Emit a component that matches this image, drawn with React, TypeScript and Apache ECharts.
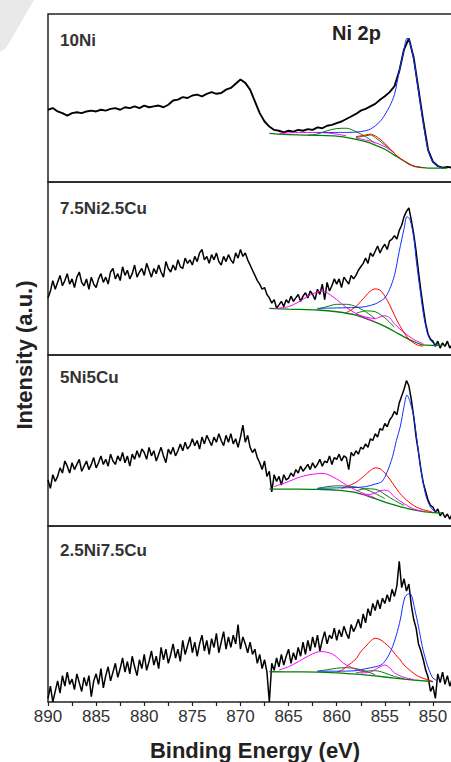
import React, { useEffect, useRef } from 'react';
import * as echarts from 'echarts';

// Energy grids (binding energy, eV)
const E_HALF: number[] = Array.from({ length: 85 }, (_, i) => 890 - 0.5 * i);
const E_QUARTER: number[] = Array.from({ length: 169 }, (_, i) => 890 - 0.25 * i);

const PANEL_LABELS = ['10Ni', '7.5Ni2.5Cu', '5Ni5Cu', '2.5Ni7.5Cu'];
const X_TICK_LABELS = [890, 885, 880, 875, 870, 865, 860, 855, 850];

// Panel 1 (10Ni) – measured spectrum, 0.5 eV steps from 890 to 848
const DATA_10NI = [
  43, 44, 42, 41, 39.5, 41, 41.5, 41, 42, 42.5, 42, 43, 42.5, 43.5, 44, 43, 44.5, 44, 45, 44,
  45.5, 44.5, 45, 45.5, 44.5, 46, 48.5, 49, 50.5, 50, 51.5, 52, 51, 52.5, 53.5, 52.5, 53, 55, 56, 58.5,
  61, 59, 55, 48, 41, 36, 33, 31, 30.5, 29.5, 30.5, 30, 31, 30.5, 31.5, 31, 32.5, 32, 33.5, 34,
  35, 36, 37.5, 39, 40.5, 42.5, 43.5, 45, 46.5, 49, 51, 53.5, 57, 66, 79, 85.5, 74, 55, 36, 19,
  12, 9.5, 8.5, 9, 8.5,
];

// Panel 2 (7.5Ni2.5Cu) – 0.25 eV steps from 890 to 848
const DATA_75NI = [
  33, 37, 43, 38, 42, 46, 40, 43, 47, 41, 44, 39, 45, 48, 42, 40, 44, 38, 45, 41,
  39, 44, 47, 42, 45, 41, 48, 50, 44, 47, 43, 51, 46, 49, 44, 47, 52, 45, 48, 50,
  46, 53, 49, 45, 50, 47, 52, 48, 45, 54, 50, 48, 52, 49, 55, 51, 50, 56, 53, 55,
  52, 57, 54, 59, 61, 55, 57, 53, 58, 55, 59, 54, 52, 57, 54, 58, 55, 53, 59, 56,
  61, 57, 59, 55, 52, 49, 46, 43, 41, 38, 39, 35, 33, 30, 32, 27, 29, 31, 28, 32,
  30, 34, 31, 33, 35, 31, 34, 36, 33, 37, 35, 32, 38, 35, 41, 32, 42, 37, 40, 44,
  41, 44, 39, 45, 43, 41, 46, 44, 46, 49, 51, 53, 56, 53, 59, 57, 60, 63, 59, 62,
  64, 61, 66, 67, 69, 67, 72, 75, 80, 83, 85, 78, 70, 60, 48, 37, 27, 18, 12, 9,
  8, 5, 8, 4, 7, 5, 8, 4, 6,
];

// Panel 3 (5Ni5Cu) – 0.25 eV steps from 890 to 848
const DATA_5NI = [
  27, 22, 30, 26, 29, 34, 31, 38, 35, 31, 37, 33, 36, 39, 32, 35, 38, 33, 36, 40,
  34, 37, 41, 36, 39, 35, 42, 38, 36, 41, 38, 43, 37, 41, 35, 42, 39, 44, 40, 45,
  43, 39, 46, 41, 44, 38, 42, 46, 41, 37, 45, 42, 46, 41, 44, 48, 44, 49, 45, 47,
  51, 47, 50, 45, 52, 48, 53, 50, 47, 52, 49, 54, 50, 47, 53, 49, 54, 48, 51, 46,
  52, 59, 49, 53, 46, 43, 45, 40, 37, 33, 38, 29, 32, 20, 30, 26, 29, 24, 30, 27,
  28, 31, 29, 33, 31, 35, 32, 34, 36, 33, 37, 34, 36, 39, 35, 38, 37, 41, 36, 40,
  39, 42, 38, 41, 40, 33, 43, 41, 44, 42, 46, 45, 48, 46, 51, 50, 54, 52, 57, 56,
  60, 58, 62, 64, 67, 65, 72, 76, 80, 85, 82, 74, 64, 52, 43, 33, 25, 20, 15, 12,
  11, 8, 10, 6, 8, 5, 7, 4, 7,
];

// Panel 4 (2.5Ni7.5Cu) – 0.25 eV steps from 890 to 848
const DATA_25NI = [
  2, 9, 0, 6, 12, 5, 15, 9, 17, 10, 13, 7, 16, 11, 6, 14, 9, 15, 3, 12,
  16, 10, 19, 8, 15, 20, 12, 17, 22, 14, 19, 25, 17, 23, 16, 26, 20, 15, 24, 19,
  27, 18, 23, 29, 21, 26, 19, 31, 24, 30, 22, 27, 33, 25, 30, 23, 35, 27, 32, 37,
  28, 34, 26, 33, 38, 29, 35, 27, 36, 31, 39, 28, 34, 40, 30, 37, 31, 38, 33, 44,
  30, 37, 33, 28, 34, 27, 30, 22, 27, 19, 24, 17, 0, 22, 18, 25, 20, 27, 21, 26,
  30, 22, 28, 24, 31, 26, 34, 27, 35, 29, 37, 31, 38, 29, 35, 40, 33, 38, 36, 42,
  35, 41, 37, 43, 39, 36, 44, 40, 43, 47, 42, 50, 45, 53, 49, 56, 52, 58, 53, 59,
  56, 61, 57, 64, 60, 66, 80, 65, 70, 63, 67, 55, 47, 42, 33, 29, 24, 18, 14, 6,
  9, 2, 16, 11, 17, 10, 15, 9, 13,
];

// Fitted components: [binding energy, intensity]
const BG_10NI = [[867, 29], [866, 28.5], [864, 28], [862, 27.8], [860, 27.3], [858.5, 26], [857, 24], [856, 22], [855, 19.5], [854, 16], [853, 12.5], [852, 9.5], [851, 8.5], [850, 8.2], [848.5, 8.2]];
const BLUE_10NI = [[862, 29.5], [859, 29.5], [857.5, 30], [856.5, 31.5], [855.5, 36], [855, 40], [854.5, 45], [854, 52], [853.5, 66], [853, 79], [852.7, 85.5], [852.5, 85], [852, 73], [851.5, 54], [851, 35], [850.5, 19], [850, 12], [849.5, 9.5], [849, 8.5]];
const RED_10NI = [[858, 27], [857, 28], [856.5, 28.5], [856, 27.5], [855.5, 25.5], [855, 23], [854.5, 20], [854, 17], [853.5, 14.5], [853, 12.5], [852.5, 10.5], [852, 9.5], [851, 8.5]];
const MAG_A_10NI = [[866, 28.8], [864, 29.5], [862, 29.5], [861, 29.2], [860, 28.5], [859, 27.5]];
const MAG_B_10NI = [[858, 26.2], [857, 25], [856, 23.5], [855, 21], [854, 17.5]];
const GRN_A_10NI = [[863, 27.8], [862, 28.6], [861, 30.5], [860, 31.8], [859, 32], [858, 30], [857, 27], [856, 23]];
const GRN_B_10NI = [[858, 26.5], [857, 27.5], [856.5, 28], [856, 26.5], [855, 22], [854, 17]];

const BG_75NI = [[867, 27], [865, 26.5], [862, 26], [860, 25], [858, 23], [856, 19], [855, 16.5], [854, 13.6], [853, 10.5], [852, 7.8], [851, 5.8], [850, 5.6], [849, 5.6]];
const BLUE_75NI = [[862, 27], [860, 27.2], [858, 27.5], [857, 28], [856, 29.5], [855.5, 31], [855, 33], [854.5, 38], [854, 46], [853.5, 60], [853, 73], [852.7, 80], [852.4, 78.5], [852, 68], [851.7, 53], [851.3, 36], [851, 24], [850.6, 13], [850.3, 9], [850, 7], [849.5, 6]];
const RED_75NI = [[859, 24.5], [858.5, 26], [858, 28], [857.5, 31], [857, 34], [856.5, 37], [856, 38.2], [855.5, 37.5], [855, 34], [854.5, 29], [854, 23], [853.5, 17.5], [853, 13], [852.5, 9], [852, 7], [851.5, 5.5], [851, 5.2]];
const MAG_A_75NI = [[866.5, 26.8], [865, 28], [864, 30.5], [863, 34], [862, 36.5], [861.5, 37], [861, 36], [860, 32], [859, 27.5], [858, 24], [857, 21.5], [856, 19]];
const MAG_B_75NI = [[858, 23.5], [857, 22], [856, 21], [855.5, 22], [855, 22.7], [854.5, 21.5], [854, 18], [853, 13], [852, 9], [851, 6.5]];
const GRN_A_75NI = [[862, 26.5], [861, 28], [860, 29.3], [859, 29.3], [858, 28], [857, 25], [856, 21]];
const GRN_B_75NI = [[858, 24], [857, 25.5], [856, 25], [855, 21.5], [854, 16]];

const BG_5NI = [[867, 21.6], [864, 21.6], [862, 21.4], [860, 21], [858, 19.5], [856, 16], [855, 14], [854, 12.3], [853, 10.7], [852, 9.4], [851, 8.4], [850, 7.8], [849, 7.6]];
const BLUE_5NI = [[862, 22], [860, 22.3], [858, 22.5], [857, 23], [856, 24.5], [855.3, 26], [854.8, 31], [854.2, 40.5], [853.8, 50], [853.4, 58], [853, 70], [852.7, 76.6], [852.4, 73], [852, 64], [851.7, 52], [851.4, 38.6], [851, 25], [850.7, 17], [850.3, 11.5], [850, 9.4], [849.5, 8]];
const RED_5NI = [[859.5, 22], [859, 23], [858, 25.5], [857, 30], [856.5, 32.5], [856, 34], [855.5, 33.5], [855, 31], [854.5, 27.5], [854, 23.5], [853.5, 19.5], [853, 16.5], [852.5, 14], [852, 12], [851.5, 10.5], [851, 9.5], [850.5, 8.8], [850, 8]];
const MAG_A_5NI = [[866.5, 23], [865, 26], [864, 28.3], [863, 29.8], [862, 30.6], [861.5, 30.8], [861, 30.3], [860, 27.5], [859, 24], [858, 21], [857, 18.5], [856, 16.5]];
const MAG_B_5NI = [[857.5, 18.5], [856.5, 18.5], [855.5, 20.5], [855, 21], [854.5, 20], [854, 17], [853, 13], [852, 10], [851, 8.5]];
const GRN_A_5NI = [[862, 22], [861, 23], [860, 23.5], [859, 23.3], [858, 22.8], [857, 21.5], [856, 19], [855, 16]];
const GRN_B_5NI = [[858, 20.5], [857, 21.8], [856, 21.5], [855.5, 20.5], [855, 18.5], [854, 15], [853, 12]];

const BG_25NI = [[867, 17.2], [864, 17.1], [862, 17], [860, 16.5], [858, 15.8], [856, 14.8], [854, 13.6], [852, 12.5], [850.5, 11.8], [850, 11.6]];
const BLUE_25NI = [[862, 17.5], [860, 17.5], [858, 17.8], [857, 18.9], [856, 20], [855.3, 21.4], [854.7, 25.5], [854.2, 31.4], [853.8, 38], [853.4, 46.6], [852.9, 59.8], [852.4, 61.7], [851.8, 50.4], [851.4, 40], [851.1, 31.4], [850.7, 23], [850.4, 18.2], [850, 13.6], [849.5, 12]];
const RED_25NI = [[860, 17], [859.5, 18], [859, 20], [858, 24.5], [857.5, 28.6], [857, 31.5], [856.5, 34.5], [856, 36.2], [855.5, 35.5], [855, 33.5], [854.4, 30.5], [853.9, 27], [853.4, 23.9], [853, 21], [852.5, 18.5], [852, 16.3], [851.5, 14.5], [850.7, 12.9], [850, 11.7]];
const MAG_A_25NI = [[866, 18.2], [865, 20], [864, 22.9], [863, 26], [862, 28.4], [861.5, 28.6], [860.6, 27.6], [860, 25.5], [859.3, 22], [858.6, 20], [858, 18.5], [857, 17]];
const MAG_B_25NI = [[857.5, 16.5], [856.5, 17], [856, 18.5], [855.5, 20], [855, 21], [854.5, 19.5], [854, 16.5], [853, 14], [852, 12.8]];
const GRN_A_25NI = [[862, 17.5], [861, 18.3], [860, 19.2], [859, 19.5], [858, 19], [857, 17.5], [856, 15.5]];
const GRN_B_25NI = [[858, 16.5], [857, 17.5], [856, 17.8], [855, 16.5], [854, 14.5], [853, 13.2]];

const PANELS = [
  { energies: E_HALF, data: DATA_10NI, bg: BG_10NI, blue: BLUE_10NI, red: RED_10NI, magA: MAG_A_10NI, magB: MAG_B_10NI, grnA: GRN_A_10NI, grnB: GRN_B_10NI },
  { energies: E_QUARTER, data: DATA_75NI, bg: BG_75NI, blue: BLUE_75NI, red: RED_75NI, magA: MAG_A_75NI, magB: MAG_B_75NI, grnA: GRN_A_75NI, grnB: GRN_B_75NI },
  { energies: E_QUARTER, data: DATA_5NI, bg: BG_5NI, blue: BLUE_5NI, red: RED_5NI, magA: MAG_A_5NI, magB: MAG_B_5NI, grnA: GRN_A_5NI, grnB: GRN_B_5NI },
  { energies: E_QUARTER, data: DATA_25NI, bg: BG_25NI, blue: BLUE_25NI, red: RED_25NI, magA: MAG_A_25NI, magB: MAG_B_25NI, grnA: GRN_A_25NI, grnB: GRN_B_25NI },
];

const GRID_TOPS = [14, 182, 355, 526];
const GRID_HEIGHTS = [168, 173, 171, 176];
const LABEL_Y = [40, 208, 377, 550];
const FONT = 'Liberation Sans, Arial, sans-serif';

export default function App() {
  const ref = useRef<HTMLDivElement>(null);

  useEffect(() => {
    if (!ref.current) return;
    const chart = echarts.init(ref.current, undefined, { renderer: 'svg' });

    const grids = GRID_TOPS.map((top, i) => ({
      left: 48,
      width: 409,
      top,
      height: GRID_HEIGHTS[i],
      outerBoundsMode: 'none',
      containLabel: false,
      show: true,
      borderColor: '#222',
      borderWidth: 1.5,
      backgroundColor: 'transparent',
    }));

    const xAxes = GRID_TOPS.map((_, i) => {
      const bottom = i === 3;
      return {
        type: 'value',
        gridIndex: i,
        min: 847.5,
        max: 890,
        interval: 2.5,
        inverse: true,
        axisLine: { show: false },
        splitLine: { show: false },
        axisTick: { show: bottom, length: 4, lineStyle: { color: '#222', width: 1.2 } },
        axisLabel: {
          show: bottom,
          margin: 6,
          fontSize: 17,
          fontFamily: FONT,
          color: '#333',
          hideOverlap: false,
          formatter: (v: number) => (X_TICK_LABELS.includes(v) ? String(v) : ''),
        },
      };
    });

    const yAxes = GRID_TOPS.map((_, i) => ({
      type: 'value',
      gridIndex: i,
      min: 0,
      max: 100,
      show: false,
    }));

    const series: any[] = [];
    PANELS.forEach((p, i) => {
      series.push({
        type: 'line',
        xAxisIndex: i,
        yAxisIndex: i,
        data: p.energies.map((e, k) => [e, p.data[k]]),
        showSymbol: false,
        lineStyle: { color: '#000', width: i === 0 ? 1.9 : 1.5 },
        z: 2,
      });
      const comps: [number[][], string, number][] = [
        [p.bg, '#008000', 1.3],
        [p.grnA, '#008000', 1],
        [p.grnB, '#008000', 1],
        [p.magA, '#ff00ff', 1],
        [p.magB, '#ff00ff', 1],
        [p.red, '#ff0000', 1],
        [p.blue, '#1030ff', 1],
      ];
      comps.forEach(([d, c, w]) => {
        series.push({
          type: 'line',
          xAxisIndex: i,
          yAxisIndex: i,
          data: d,
          showSymbol: false,
          smooth: 0.3,
          lineStyle: { color: c, width: w },
          z: 3,
        });
      });
    });

    const graphic: any[] = [
      {
        type: 'polygon',
        shape: { points: [[0, 0], [34, 0], [6, 48], [0, 52]] },
        style: { fill: '#e9e9e9' },
        z: -1,
      },
      ...PANEL_LABELS.map((t, i) => ({
        type: 'text',
        x: 60,
        y: LABEL_Y[i],
        style: { text: t, fontSize: 17, fontWeight: 'bold', fontFamily: FONT, fill: '#333', align: 'left', verticalAlign: 'middle' },
      })),
      {
        type: 'text',
        x: 332,
        y: 33,
        style: { text: 'Ni 2p', fontSize: 20, fontWeight: 'bold', fontFamily: FONT, fill: '#222', align: 'left', verticalAlign: 'middle' },
      },
      {
        type: 'text',
        x: 24,
        y: 355,
        rotation: Math.PI / 2,
        style: { text: 'Intensity (a.u.)', fontSize: 22, fontWeight: 'bold', fontFamily: FONT, fill: '#222', align: 'center', verticalAlign: 'middle' },
      },
      {
        type: 'text',
        x: 255,
        y: 750,
        style: { text: 'Binding Energy (eV)', fontSize: 22, fontWeight: 'bold', fontFamily: FONT, fill: '#222', align: 'center', verticalAlign: 'middle' },
      },
    ];

    chart.setOption({
      animation: false,
      backgroundColor: '#fff',
      grid: grids,
      xAxis: xAxes,
      yAxis: yAxes,
      series,
      graphic,
    });

    return () => chart.dispose();
  }, []);

  return <div ref={ref} style={{ position: 'fixed', left: 0, top: 0, width: 451, height: 762 }} />;
}
